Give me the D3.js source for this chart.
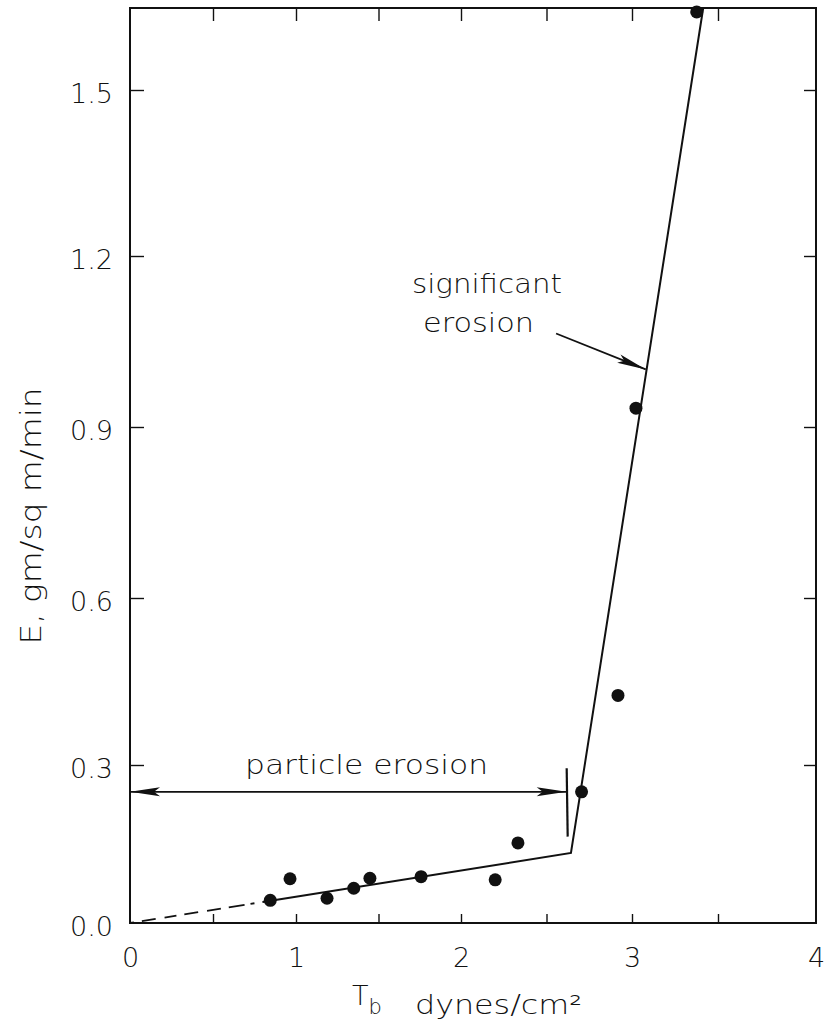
<!DOCTYPE html>
<html><head><meta charset="utf-8">
<script src="https://cdn.jsdelivr.net/npm/d3@7"></script>
<style>
body{margin:0;background:#fff}
svg{display:block}
text{font-family:"DejaVu Sans",sans-serif;font-weight:200;fill:#111}
</style>
</head><body>
<svg id="chart" width="824" height="1029"></svg>
<script>
// ---- data ----
const shearStress = [0.845, 0.964, 1.188, 1.350, 1.448, 1.758, 2.20, 2.333, 2.705, 2.918, 3.023, 3.376];
const erosionRate = [0.043, 0.084, 0.047, 0.066, 0.085, 0.088, 0.082, 0.152, 0.249, 0.425, 0.933, 1.641];
const fitDashedX = [0, 0.80];
const fitDashedY = [0, 0.040];
const fitSolidX = [0.80, 2.643, 3.414];
const fitSolidY = [0.040, 0.133, 1.648];
const xTickValues = [0, 1, 2, 3, 4];
const xMinorTicks = [0.5, 1, 1.5, 2, 2.5, 3, 3.5];
const yTickValues = [0, 0.3, 0.6, 0.9, 1.2, 1.5];
// annotations (data coordinates)
const particleArrowX = [0, 2.618];
const particleArrowY = 0.249;
const particleBarY = [0.164, 0.294];
const sigArrowX = [2.556, 3.080];
const sigArrowY = [1.064, 1.001];

// ---- scales (piecewise to follow the scanned axis) ----
const x = d3.scaleLinear().domain([0, 1, 2, 3, 3.5, 4]).range([130, 296, 461, 632, 718, 816]);
const y = d3.scaleLinear().domain([0, 0.3, 0.6, 0.9, 1.2, 1.5, 1.648]).range([923, 765, 598, 427, 256, 90, 8]);

const svg = d3.select("#chart");
const ink = "#111";
const [x0, x1] = [x.range()[0], x.range()[x.range().length - 1]];
const [yb, yt] = [y.range()[0], y.range()[y.range().length - 1]];

// frame
svg.append("rect").attr("x", x0).attr("y", yt).attr("width", x1 - x0).attr("height", yb - yt)
  .attr("fill", "none").attr("stroke", ink).attr("stroke-width", 2);

// inner ticks
function ticks(axis, tr) {
  const g = svg.append("g").attr("transform", tr).call(axis);
  g.select(".domain").remove();
  g.selectAll("line").attr("stroke", ink).attr("stroke-width", 1.4);
  g.selectAll("text").remove();
}
ticks(d3.axisBottom(x).tickValues(xMinorTicks).tickSize(-9), `translate(0,${yb})`);
ticks(d3.axisTop(x).tickValues(xMinorTicks).tickSize(-13), `translate(0,${yt})`);
ticks(d3.axisLeft(y).tickValues(yTickValues.slice(1)).tickSize(-14), `translate(${x0},0)`);
ticks(d3.axisRight(y).tickValues(yTickValues.slice(1)).tickSize(-12), `translate(${x1},0)`);

// tick labels
const gx = svg.append("g").attr("transform", `translate(0,${yb})`)
  .call(d3.axisBottom(x).tickValues(xTickValues).tickSize(0).tickPadding(25).tickFormat(d3.format("d")));
gx.select(".domain").remove();
gx.selectAll("text").style("font-size", "27px").attr("fill", ink);

const gy = svg.append("g").attr("transform", `translate(${x0},0)`)
  .call(d3.axisLeft(y).tickValues(yTickValues).tickSize(0).tickPadding(17).tickFormat(d3.format(".1f")));
gy.select(".domain").remove();
gy.selectAll("text").style("font-size", "27px").attr("dy", "0.45em").attr("fill", ink);

// axis titles
svg.append("text").attr("transform", `translate(41,516) rotate(-90)`)
  .attr("text-anchor", "middle").style("font-size", "28px")
  .attr("textLength", 257).attr("lengthAdjust", "spacingAndGlyphs")
  .text("E, gm/sq m/min");

const xt = svg.append("text").attr("x", 352).attr("y", 1005).style("font-size", "27px");
xt.append("tspan").text("T");
xt.append("tspan").attr("dy", 9).style("font-size", "21px").text("b");
svg.append("text").attr("x", 415).attr("y", 1014).style("font-size", "26px")
  .attr("textLength", 167).attr("lengthAdjust", "spacingAndGlyphs").text("dynes/cm²");

// fitted line
const line = d3.line().x(d => x(d[0])).y(d => y(d[1]));
svg.append("path").datum(d3.zip(fitDashedX, fitDashedY)).attr("d", line)
  .attr("fill", "none").attr("stroke", ink).attr("stroke-width", 1.8).attr("stroke-dasharray", "4,8,14,9,12,8,14,9,14,8,16,6");
svg.append("path").datum(d3.zip(fitSolidX, fitSolidY)).attr("d", line)
  .attr("fill", "none").attr("stroke", ink).attr("stroke-width", 2);

// data points
svg.append("g").selectAll("circle").data(d3.zip(shearStress, erosionRate)).join("circle")
  .attr("cx", d => x(d[0])).attr("cy", d => y(d[1])).attr("r", 6.5).attr("fill", ink);

// arrowhead helper
function arrowHead(tx, ty, fx, fy, len, hw) {
  const dx = tx - fx, dy = ty - fy, L = Math.hypot(dx, dy);
  const ux = dx / L, uy = dy / L, px = -uy, py = ux;
  const bx = tx - ux * len, by = ty - uy * len;
  const nx = tx - ux * len * 0.8, ny = ty - uy * len * 0.8;
  svg.append("path")
    .attr("d", `M${tx},${ty}L${bx + px * hw},${by + py * hw}L${nx},${ny}L${bx - px * hw},${by - py * hw}Z`)
    .attr("fill", ink);
}

// particle erosion arrow
const pa = particleArrowX.map(v => x(v)), py0 = y(particleArrowY);
svg.append("line").attr("x1", pa[0]).attr("x2", pa[1]).attr("y1", py0).attr("y2", py0)
  .attr("stroke", ink).attr("stroke-width", 1.8);
arrowHead(pa[0], py0, pa[1], py0, 30, 4.5);
arrowHead(pa[1], py0, pa[0], py0, 30, 4.5);
svg.append("line").attr("x1", pa[1]).attr("x2", pa[1] + 1)
  .attr("y1", y(particleBarY[1])).attr("y2", y(particleBarY[0]))
  .attr("stroke", ink).attr("stroke-width", 2.2);
svg.append("text").attr("x", 245).attr("y", 774).style("font-size", "26px")
  .attr("textLength", 243).attr("lengthAdjust", "spacingAndGlyphs").text("particle erosion");

// significant erosion arrow
const s0 = [x(sigArrowX[0]), y(sigArrowY[0])], s1 = [x(sigArrowX[1]), y(sigArrowY[1])];
svg.append("line").attr("x1", s0[0]).attr("y1", s0[1]).attr("x2", s1[0]).attr("y2", s1[1])
  .attr("stroke", ink).attr("stroke-width", 1.8);
arrowHead(s1[0], s1[1], s0[0], s0[1], 29, 4.5);
svg.append("text").attr("x", 412).attr("y", 293).style("font-size", "26px")
  .attr("textLength", 150).attr("lengthAdjust", "spacingAndGlyphs").text("significant");
svg.append("text").attr("x", 423).attr("y", 332).style("font-size", "26px")
  .attr("textLength", 111).attr("lengthAdjust", "spacingAndGlyphs").text("erosion");
</script>
</body></html>
